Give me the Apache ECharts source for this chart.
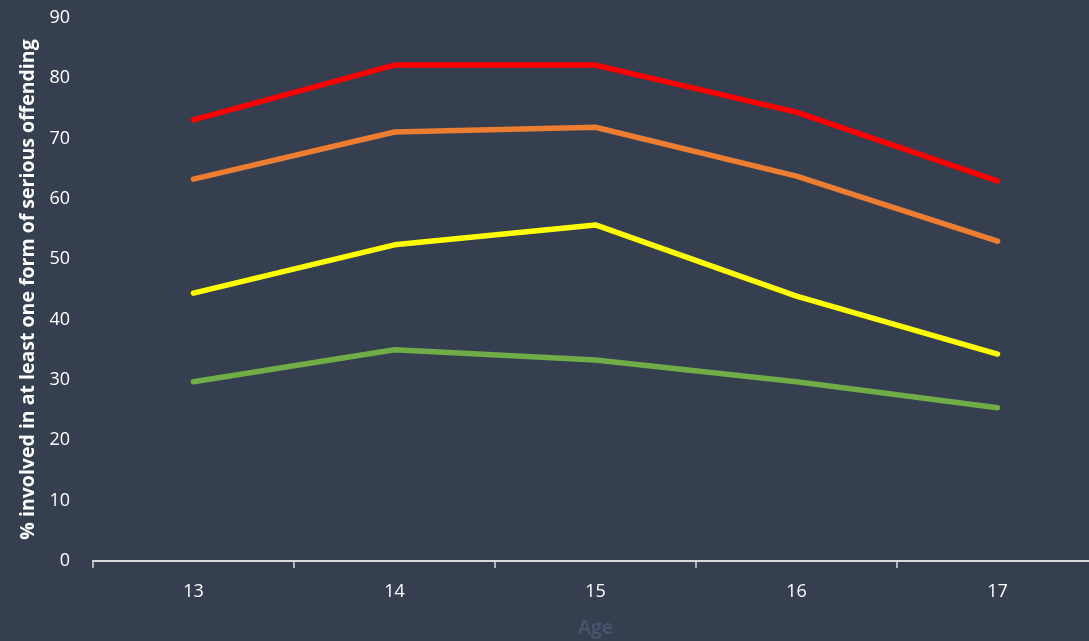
<!DOCTYPE html>
<html><head><meta charset="utf-8">
<script src="https://cdn.jsdelivr.net/npm/echarts@6/dist/echarts.min.js"></script>
<style>html,body{margin:0;padding:0;background:#353f50;}#c{width:1089px;height:641px;}</style>
</head><body><div id="c"></div>
<script>
const categories = ['13','14','15','16','17'];
const seriesRed = [73.1, 82.2, 82.2, 74.4, 63.0];
const seriesOrange = [63.3, 71.1, 71.9, 63.8, 53.0];
const seriesYellow = [44.4, 52.4, 55.7, 43.9, 34.3];
const seriesGreen = [29.7, 35.0, 33.3, 29.7, 25.4];
const colors = ['#ff0000', '#ed7d31', '#ffff00', '#70ad47'];
const allSeries = [seriesRed, seriesOrange, seriesYellow, seriesGreen];
const font = 'Open Sans, Lato, sans-serif';
const chart = echarts.init(document.getElementById('c'), null, {renderer:'canvas'});
chart.setOption({
  backgroundColor: '#353f50',
  animation: false,
  grid: {left: 93, top: 18, width: 1005, height: 543, containLabel: false, outerBoundsMode: 'none'},
  xAxis: {
    type: 'category', data: categories, boundaryGap: true,
    name: 'Age', nameLocation: 'middle', nameGap: 58,
    nameTextStyle: {color: '#46536a', fontSize: 19, fontWeight: 'bold', fontFamily: font},
    axisLine: {lineStyle: {color: '#d9d9d9', width: 2}},
    axisTick: {show: true, interval: 0, lineStyle: {color: '#d9d9d9', width: 1.5}, length: 7},
    axisLabel: {color: '#ffffff', fontSize: 18, fontFamily: font, margin: 22}
  },
  yAxis: {
    type: 'value', min: 0, max: 90, interval: 10,
    name: '% involved in at least one form of serious offending', nameLocation: 'middle', nameGap: 52,
    nameTextStyle: {color: '#ffffff', fontSize: 19.5, fontWeight: 'bold', fontFamily: font},
    axisLine: {show: false}, axisTick: {show: false}, splitLine: {show: false},
    axisLabel: {color: '#ffffff', fontSize: 18, fontFamily: font, margin: 23}
  },
  series: allSeries.map((d, i) => ({
    type: 'line', data: d, symbol: 'none',
    lineStyle: {color: colors[i], width: 5.5, cap: 'round', join: 'round'}
  }))
});
</script></body></html>
